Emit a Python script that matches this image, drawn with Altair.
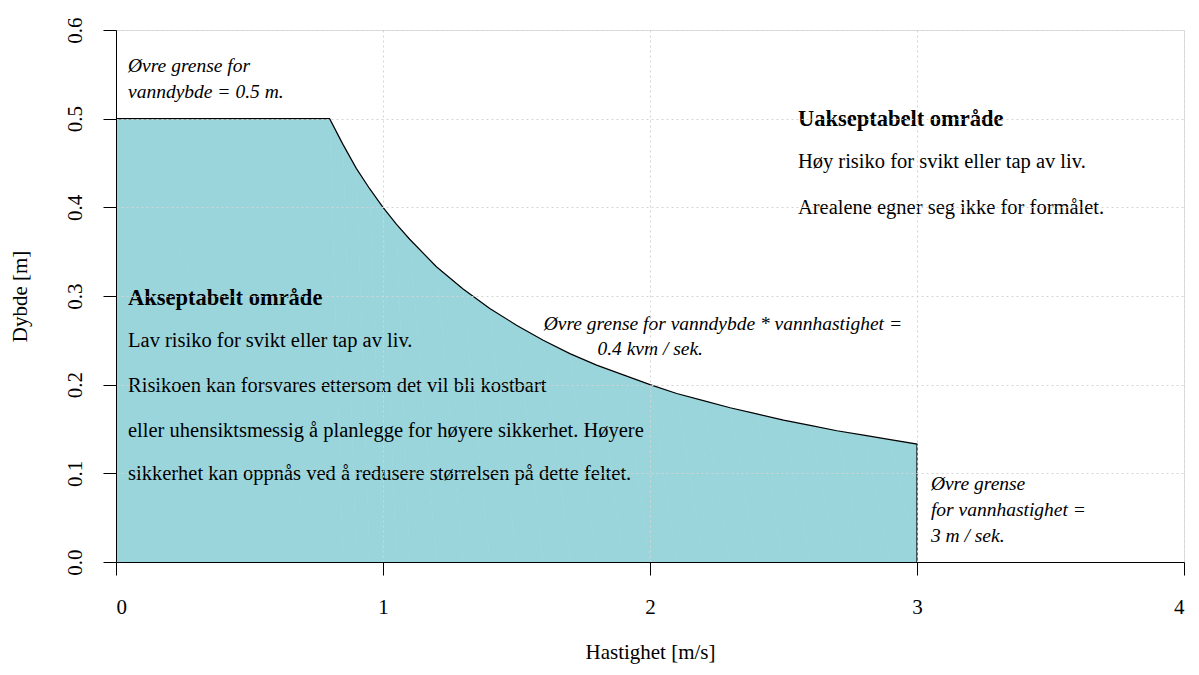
import altair as alt
import pandas as pd

# boundary of the acceptable area
hastighet = [0.0, 0.8, 0.85, 0.9, 0.95, 1.0, 1.05, 1.1, 1.2, 1.3, 1.4, 1.5, 1.6, 1.7, 1.8, 1.9, 2.0,
             2.1, 2.2, 2.3, 2.4, 2.5, 2.6, 2.7, 2.8, 2.9, 3.0, 3.0]
dybde     = [0.5, 0.5, 0.471, 0.444, 0.421, 0.4, 0.381, 0.364, 0.333, 0.308, 0.286, 0.267, 0.25, 0.235,
             0.222, 0.211, 0.2, 0.190, 0.182, 0.174, 0.167, 0.160, 0.154, 0.148, 0.143, 0.138, 0.133, 0.0]

x_ticks = [0, 1, 2, 3, 4]
y_ticks = [0.0, 0.1, 0.2, 0.3, 0.4, 0.5, 0.6]

bold_text = ["Akseptabelt område", "Uakseptabelt område"]
bold_x = [0.045, 2.554]
bold_y = [0.298, 0.4995]

plain_text = [
    "Lav risiko for svikt eller tap av liv.",
    "Risikoen kan forsvares ettersom det vil bli kostbart",
    "eller uhensiktsmessig å planlegge for høyere sikkerhet. Høyere",
    "sikkerhet kan oppnås ved å redusere størrelsen på dette feltet.",
    "Høy risiko for svikt eller tap av liv.",
    "Arealene egner seg ikke for formålet.",
]
plain_x = [0.045, 0.045, 0.045, 0.045, 2.554, 2.554]
plain_y = [0.249, 0.198, 0.148, 0.099, 0.451, 0.399]

italic_text = [
    "Øvre grense for",
    "vanndybde = 0.5 m.",
    "Øvre grense for vanndybde * vannhastighet =",
    "0.4 kvm / sek.",
    "Øvre grense",
    "for vannhastighet =",
    "3 m / sek.",
]
italic_x = [0.045, 0.045, 1.602, 1.803, 3.052, 3.052, 3.052]
italic_y = [0.559, 0.530, 0.268, 0.240, 0.088, 0.0586, 0.0293]

FONT = "Liberation Serif"

df = pd.DataFrame({"x": hastighet, "y": dybde, "o": list(range(len(hastighet)))})

xscale = alt.Scale(domain=[0, 4], nice=False, zero=False)
yscale = alt.Scale(domain=[0, 0.6], nice=False, zero=False)

xaxis = alt.Axis(
    title="Hastighet [m/s]", values=x_ticks, format="d", grid=True,
    gridColor="#d4d4d4", gridDash=[2, 3], gridWidth=1,
    domainColor="black", tickColor="black", tickSize=13, tickWidth=1,
    labelFont=FONT, labelFontSize=21, labelColor="black", labelPadding=21,
    titleFont=FONT, titleFontSize=21, titleFontWeight="normal", titleColor="black",
    titlePadding=24, zindex=1,
)
yaxis = alt.Axis(
    title="Dybde [m]", values=y_ticks, format=".1f", grid=True,
    gridColor="#d4d4d4", gridDash=[2, 3], gridWidth=1,
    domainColor="black", tickColor="black", tickSize=13, tickWidth=1,
    labelFont=FONT, labelFontSize=21, labelColor="black", labelPadding=18,
    labelAngle=270, labelAlign="center", labelBaseline="bottom",
    titleFont=FONT, titleFontSize=21, titleFontWeight="normal", titleColor="black",
    titlePadding=34, zindex=1,
)

area = alt.Chart(df).mark_area(color="#9AD5DC", opacity=1, interpolate="linear").encode(
    x=alt.X("x:Q", scale=xscale, axis=xaxis),
    y=alt.Y("y:Q", scale=yscale, axis=yaxis),
    order="o:Q",
)
area2 = alt.Chart(df).mark_area(color="#9AD5DC", opacity=1, interpolate="linear").encode(
    x=alt.X("x:Q", scale=xscale),
    y=alt.Y("y:Q", scale=yscale),
    order="o:Q",
)
line = alt.Chart(df).mark_line(color="black", strokeWidth=1.2).encode(
    x=alt.X("x:Q", scale=xscale),
    y=alt.Y("y:Q", scale=yscale),
    order="o:Q",
)

def texts(t, xs, ys, **kw):
    d = pd.DataFrame({"x": xs, "y": ys, "t": t})
    return alt.Chart(d).mark_text(align="left", baseline="middle", font=FONT, color="black", **kw).encode(
        x=alt.X("x:Q", scale=xscale), y=alt.Y("y:Q", scale=yscale), text="t:N"
    )

t_bold = texts(bold_text, bold_x, bold_y, fontSize=22.5, fontWeight="bold")
t_plain = texts(plain_text, plain_x, plain_y, fontSize=20.5)
t_ital = texts(italic_text, italic_x, italic_y, fontSize=19.5, fontStyle="italic")

chart = alt.layer(area, area2, line, t_bold, t_plain, t_ital).properties(
    width=1068, height=532,
    autosize=alt.AutoSizeParams(type="none"),
    padding={"left": 108, "top": 22, "right": 7, "bottom": 108},
).configure_view(stroke=None).configure(background="white")

chart.save("out.html", embed_options={"renderer": "svg", "actions": False})
